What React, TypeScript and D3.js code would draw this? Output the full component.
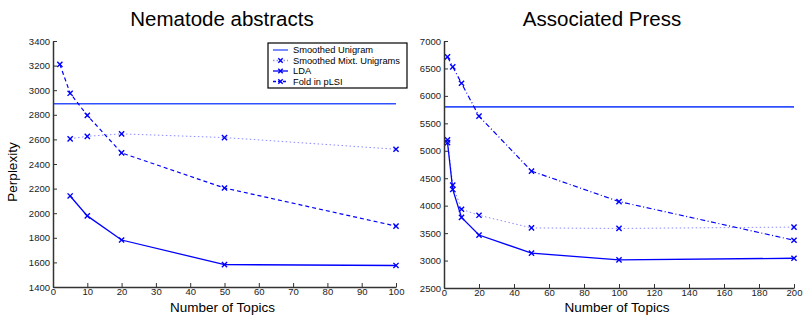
import React, { useEffect, useRef } from 'react'
import * as d3 from 'd3'

// Nematode abstracts
const nemTopics = [5, 10, 20, 50, 100]
const nemPlsiTopics = [2, 5, 10, 20, 50, 100]
const nemUnigram = 2890
const nemMixt = [2605, 2625, 2645, 2615, 2520]
const nemLda = [2140, 1978, 1782, 1582, 1575]
const nemPlsi = [3210, 2975, 2795, 2490, 2205, 1895]

// Associated Press
const apTopics = [2, 5, 10, 20, 50, 100, 200]
const apPlsiTopics = [2, 5, 10, 20, 50, 100, 200]
const apUnigram = 5800
const apMixt = [5200, 4375, 3935, 3825, 3595, 3585, 3610]
const apLda = [5150, 4295, 3785, 3465, 3135, 3013, 3042]
const apPlsi = [6710, 6530, 6230, 5630, 4630, 4075, 3370]

const nemXTicks = d3.range(0, 101, 10)
const nemYTicks = d3.range(1400, 3401, 200)
const apXTicks = d3.range(0, 201, 20)
const apYTicks = d3.range(2500, 7001, 500)

const legendLabels = ['Smoothed Unigram', 'Smoothed Mixt. Unigrams', 'LDA', 'Fold in pLSI']

const BLUE = '#0000ff'
const FONT = '"Liberation Sans", Arial, sans-serif'

function drawX(g: any, x: number, y: number, s: number) {
  g.append('path')
    .attr('d', `M${x - s},${y - s}L${x + s},${y + s}M${x - s},${y + s}L${x + s},${y - s}`)
    .attr('stroke', BLUE)
    .attr('stroke-width', 1.4)
    .attr('fill', 'none')
}

function panel(svg: any, opts: any) {
  const x = d3.scaleLinear().domain(opts.xDomain).range(opts.xRange)
  const y = d3.scaleLinear().domain(opts.yDomain).range(opts.yRange)
  const g = svg.append('g')

  const line = d3.line<[number, number]>()
    .x(d => x(d[0]))
    .y(d => y(d[1]))

  // smoothed unigram
  g.append('line')
    .attr('x1', x(opts.xDomain[0])).attr('x2', x(opts.xDomain[1]))
    .attr('y1', y(opts.unigram)).attr('y2', y(opts.unigram))
    .attr('stroke', '#3050ff').attr('stroke-width', 1.6)

  const series = [
    { xs: opts.topics, ys: opts.mixt, dash: '1.5,2.5', color: '#8c8cff', width: 1 },
    { xs: opts.topics, ys: opts.lda, dash: null, color: BLUE, width: 1.3 },
    { xs: opts.plsiTopics, ys: opts.plsi, dash: opts.plsiDash, color: BLUE, width: 1.2 },
  ]
  series.forEach(s => {
    const pts: [number, number][] = s.xs.map((t: number, i: number) => [t, s.ys[i]])
    g.append('path')
      .attr('d', line(pts))
      .attr('fill', 'none')
      .attr('stroke', s.color)
      .attr('stroke-width', s.width)
      .attr('stroke-dasharray', s.dash)
    pts.forEach(p => drawX(g, x(p[0]), y(p[1]), 2.6))
  })

  const fmt = d3.format('d')
  const xAxis = g.append('g')
    .attr('transform', `translate(0,${opts.yRange[0]})`)
    .call(d3.axisBottom(x).tickValues(opts.xTicks).tickFormat(fmt).tickSize(-4).tickPadding(1).tickSizeOuter(0))
  const yAxis = g.append('g')
    .attr('transform', `translate(${opts.xRange[0]},0)`)
    .call(d3.axisLeft(y).tickValues(opts.yTicks).tickFormat(fmt).tickSize(-4).tickPadding(3).tickSizeOuter(0))
  ;[xAxis, yAxis].forEach(a => {
    a.select('.domain').attr('stroke', '#333').attr('stroke-width', 1.5)
    a.selectAll('.tick line').attr('stroke', '#333')
    a.selectAll('text').attr('font-family', FONT).attr('font-size', 9.5).attr('fill', '#222')
  })

  svg.append('text')
    .attr('x', opts.titleX).attr('y', 26)
    .attr('text-anchor', 'middle')
    .attr('font-family', FONT).attr('font-size', 20.5)
    .text(opts.title)

  svg.append('text')
    .attr('x', (opts.xRange[0] + opts.xRange[1]) / 2 - 2).attr('y', 312)
    .attr('text-anchor', 'middle')
    .attr('font-family', FONT).attr('font-size', 13.5)
    .text('Number of Topics')
}

export default function App() {
  const ref = useRef<SVGSVGElement>(null)

  useEffect(() => {
    const svg = d3.select(ref.current)
    svg.selectAll('*').remove()
    svg.append('rect').attr('width', 803).attr('height', 322).attr('fill', '#fff')

    panel(svg, {
      xDomain: [0, 100], xRange: [53, 396],
      yDomain: [1400, 3400], yRange: [287, 41],
      xTicks: nemXTicks, yTicks: nemYTicks,
      topics: nemTopics, plsiTopics: nemPlsiTopics,
      unigram: nemUnigram, mixt: nemMixt, lda: nemLda, plsi: nemPlsi,
      plsiDash: '4,3', title: 'Nematode abstracts', titleX: 222,
    })
    panel(svg, {
      xDomain: [0, 200], xRange: [444, 794],
      yDomain: [2500, 7000], yRange: [288, 41],
      xTicks: apXTicks, yTicks: apYTicks,
      topics: apTopics, plsiTopics: apPlsiTopics,
      unigram: apUnigram, mixt: apMixt, lda: apLda, plsi: apPlsi,
      plsiDash: '5,2.5,1,2.5', title: 'Associated Press', titleX: 602,
    })

    svg.append('text')
      .attr('transform', 'translate(17,172) rotate(-90)')
      .attr('text-anchor', 'middle')
      .attr('font-family', FONT).attr('font-size', 13.5)
      .text('Perplexity')

    // legend
    const lg = svg.append('g').attr('transform', 'translate(268,43)')
    lg.append('rect')
      .attr('width', 139).attr('height', 45)
      .attr('fill', '#fff').attr('stroke', '#000').attr('stroke-width', 1.2)
    const styles = [
      { dash: null, color: '#3050ff', marker: false },
      { dash: '1.5,2', color: '#8c8cff', marker: true },
      { dash: null, color: BLUE, marker: true },
      { dash: '3,2', color: BLUE, marker: true },
    ]
    legendLabels.forEach((label, i) => {
      const yy = 7 + i * 10.5
      lg.append('line')
        .attr('x1', 5).attr('x2', 20).attr('y1', yy).attr('y2', yy)
        .attr('stroke', styles[i].color).attr('stroke-width', 1.3)
        .attr('stroke-dasharray', styles[i].dash)
      if (styles[i].marker) drawX(lg, 12.5, yy, 2.2)
      lg.append('text')
        .attr('x', 25).attr('y', yy + 3.3)
        .attr('font-family', FONT).attr('font-size', 9.3)
        .text(label)
    })
  }, [])

  return (
    <svg
      ref={ref}
      width={803}
      height={322}
      style={{ position: 'absolute', left: 0, top: 0 }}
    />
  )
}
